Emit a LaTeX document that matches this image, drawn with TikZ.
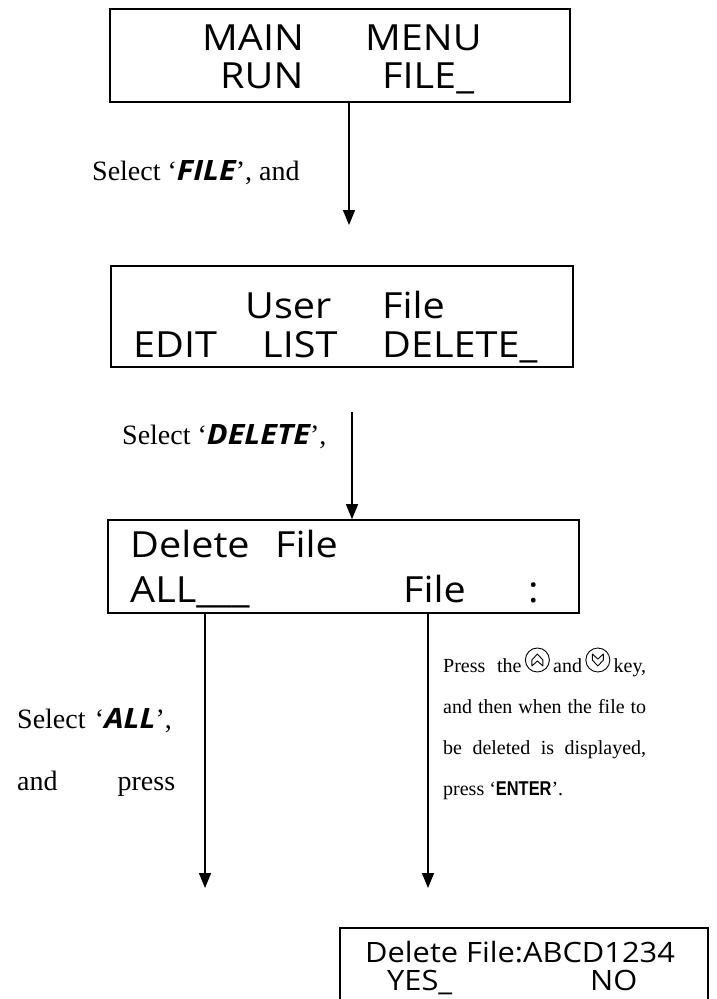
\documentclass[tikz,border=0pt]{standalone}
\usepackage{fontspec}
\setmainfont{Liberation Serif}
\newfontfamily\lcdfont[FakeStretch=1.1]{Open Sans}
\newfontfamily\keyfont[FakeStretch=0.82]{Liberation Sans}
\usetikzlibrary{arrows.meta}
\newcommand{\kw}[1]{{\lcdfont\bfseries\itshape #1}}
\newcommand{\upkey}{\tikz[baseline=0pt,x=1pt,y=1pt,line width=0.9pt]{\draw (0,12) circle (12); \draw[line join=round] (-5.5,6)--(-5.5,12)--(0,18)--(5.5,12)--(5.5,6)--(0,11)--cycle;}}
\newcommand{\downkey}{\tikz[baseline=0pt,x=1pt,y=1pt,line width=0.9pt]{\draw (0,12) circle (12); \draw[line join=round] (-5.5,18)--(-5.5,12)--(0,6)--(5.5,12)--(5.5,18)--(0,13)--cycle;}}
\newcommand{\lcdword}[4]{\node[lcd] (#1) at (#2,#3) {#4};}
\tikzset{
  screen/.style={draw, line width=1.6pt, inner sep=0pt},
  lcd/.style={font=\lcdfont\fontsize{36}{40}\selectfont, anchor=base west, inner sep=0pt},
  lcdsmall/.style={lcd, font=\lcdfont\fontsize{28}{32}\selectfont},
  note/.style={font=\fontsize{28}{32}\selectfont, anchor=base west, inner sep=0pt},
  flow/.style={line width=1.4pt, -{Triangle[length=15pt,width=12pt]}}
}
\begin{document}
\begin{tikzpicture}[x=1pt,y=-1pt]
  \clip (0,0) rectangle (717,999);
  % screens
  \node[screen, minimum width=460pt, minimum height=93pt] (menu) at (340,55.5) {};
  \node[screen, minimum width=462pt, minimum height=101pt] (userfile) at (342,316.5) {};
  \node[screen, minimum width=471pt, minimum height=93pt] (filedel) at (343.5,566.5) {};
  \node[screen, minimum width=368pt, minimum height=82pt] (confirm) at (524,969) {};
  % screen texts
  \lcdword{main}{202}{50}{MAIN}
  \lcdword{menuw}{365}{50}{MENU}
  \lcdword{run}{220}{88}{RUN}
  \lcdword{filew}{382}{88}{FILE\_}
  \lcdword{user}{245}{318}{User}
  \lcdword{ufile}{382}{318}{File}
  \lcdword{edit}{133}{357}{EDIT}
  \lcdword{list}{262}{357}{LIST}
  \lcdword{delete}{382}{357}{DELETE\_}
  \lcdword{dtitle}{130}{557}{Delete}
  \lcdword{dfile}{275}{557}{File}
  \lcdword{dall}{130}{602}{ALL\_\_\_}
  \lcdword{dname}{403}{602}{File}
  \lcdword{dcolon}{528}{602}{:}
  \node[lcdsmall] (ctitle) at (365,962) {Delete File:ABCD1234};
  \node[lcdsmall] (cyes) at (387,990) {YES\_};
  \node[lcdsmall] (cno) at (590,990) {NO};
  % arrows
  \coordinate (t1) at (349,225);
  \draw[flow] (menu.south -| t1) -- (t1);
  \coordinate (s2) at (352,412);
  \draw[flow] (s2) -- (s2 |- filedel.north);
  \coordinate (t3) at (205,888);
  \draw[flow] (filedel.south -| t3) -- (t3);
  \coordinate (t4) at (428,888);
  \draw[flow] (filedel.south -| t4) -- (t4);
  % notes
  \node[note] (nfile) at (92,180) {Select `\kw{FILE}', and};
  \node[note] (ndelete) at (122,444) {Select `\kw{DELETE}',};
  \node[note, text width=158pt, align=left, font=\fontsize{28}{62}\selectfont] (nall) at (17,728) {Select `\kw{ALL}',\\ and\hfill press};
  \node[anchor=base west, inner sep=0pt, text width=203pt, align=justify, font=\fontsize{20}{41}\selectfont] (nkeys) at (443,672)
    {Press the\,\upkey\,and\,\downkey\,key,\linebreak and then when the file to\linebreak be deleted is displayed,\linebreak press `{\keyfont\bfseries ENTER}'.};
\end{tikzpicture}
\end{document}
